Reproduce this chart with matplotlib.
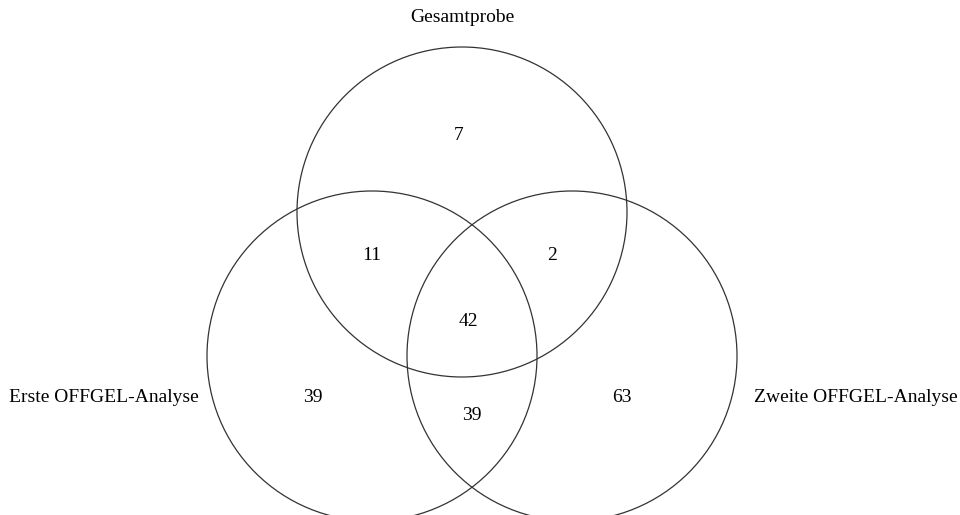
import matplotlib
matplotlib.use("Agg")
import matplotlib.pyplot as plt
from matplotlib.patches import Circle

plt.rcParams['font.family'] = ['Liberation Serif', 'DejaVu Serif']

# set names and region counts
set_names = ["Gesamtprobe", "Erste OFFGEL-Analyse", "Zweite OFFGEL-Analyse"]
region_keys = ["100", "110", "101", "111", "010", "011", "001"]
region_counts = [7, 11, 2, 42, 39, 39, 63]

# layout (pixel space of the 960x515 canvas)
centers = [(462, 212), (372, 356), (572, 356)]
radius = 165
region_pos = {
    "100": (459, 135),
    "110": (372, 255),
    "101": (552, 255),
    "111": (468, 322),
    "010": (313, 398),
    "011": (472, 415),
    "001": (622, 398),
}

fig = plt.figure(figsize=(9.6, 5.15), dpi=100)
ax = fig.add_axes([0, 0, 1, 1])
ax.set_xlim(0, 960)
ax.set_ylim(515, 0)
ax.set_aspect('equal')
ax.axis('off')

for c in centers:
    ax.add_patch(Circle(c, radius, fill=False, edgecolor='#333333', linewidth=0.9))

for key, n in zip(region_keys, region_counts):
    x, y = region_pos[key]
    ax.text(x, y, str(n), ha='center', va='center', fontsize=14)

ax.text(462, 17, set_names[0], ha='center', va='center', fontsize=14)
ax.text(199, 398, set_names[1], ha='right', va='center', fontsize=14)
ax.text(754, 398, set_names[2], ha='left', va='center', fontsize=14)

fig.savefig("out.png", dpi=100)
